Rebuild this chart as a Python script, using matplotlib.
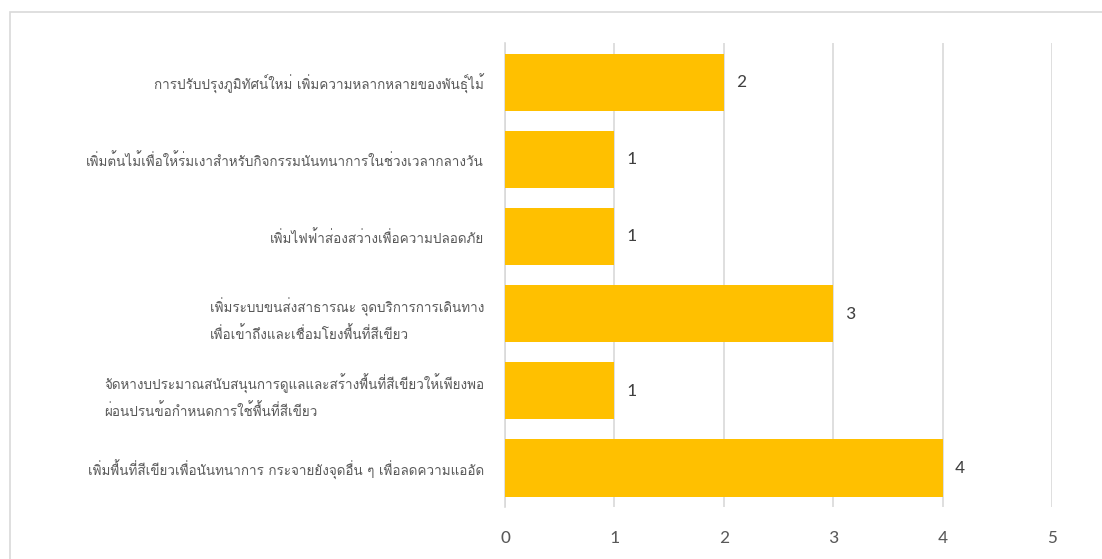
import matplotlib
matplotlib.use("Agg")
import matplotlib.pyplot as plt
from matplotlib.patches import Rectangle

categories = [
    "การปรับปรุงภูมิทัศน์ใหม่ เพิ่มความหลากหลายของพันธุ์ไม้",
    "เพิ่มต้นไม้เพื่อให้ร่มเงาสำหรับกิจกรรมนันทนาการในช่วงเวลากลางวัน",
    "เพิ่มไฟฟ้าส่องสว่างเพื่อความปลอดภัย",
    "เพิ่มระบบขนส่งสาธารณะ จุดบริการการเดินทาง\nเพื่อเข้าถึงและเชื่อมโยงพื้นที่สีเขียว",
    "จัดหางบประมาณสนับสนุนการดูแลและสร้างพื้นที่สีเขียวให้เพียงพอ\nผ่อนปรนข้อกำหนดการใช้พื้นที่สีเขียว",
    "เพิ่มพื้นที่สีเขียวเพื่อนันทนาการ กระจายยังจุดอื่น ๆ เพื่อลดความแออัด",
]
counts = [2, 1, 1, 3, 1, 4]
xticks = [0, 1, 2, 3, 4, 5]

thai_font = ["Loma", "DejaVu Sans"]
num_font = ["Carlito", "Open Sans", "DejaVu Sans"]
grid_col = "#d9d9d9"

fig = plt.figure(figsize=(11.02, 5.59), dpi=100)
ax = fig.add_axes([0.4583, 0.0937, 0.4963, 0.8285])

# chart frame
fig.patches.append(Rectangle((10 / 1102, -0.1), 1.2, 1 - 12 / 559 + 0.1,
                             transform=fig.transFigure, fill=False,
                             edgecolor=grid_col, linewidth=1.2))

y = list(range(len(categories)))
ax.barh(y, counts, height=0.74, color="#FFC000", zorder=3)
ax.set_ylim(len(categories) - 0.5, -0.5)
ax.set_xlim(0, 5)

for yi, c in zip(y, counts):
    ax.text(c + 0.11, yi, str(c), va="center", ha="left", fontsize=14,
            color="#404040", family=num_font)

ax.set_xticks(xticks)
ax.set_xticklabels([str(t) for t in xticks], family=num_font, fontsize=14,
                   color="#595959")
ax.set_yticks(y)
ax.set_yticklabels(categories, family=thai_font, fontsize=9.7, color="#595959",
                   multialignment="left", linespacing=1.7)
ax.tick_params(axis="x", length=0, pad=17)
ax.tick_params(axis="y", length=0, pad=15)
ax.grid(axis="x", color=grid_col, linewidth=1.2, zorder=0)
for s in ["top", "right", "bottom"]:
    ax.spines[s].set_visible(False)
ax.spines["left"].set_color(grid_col)
ax.spines["left"].set_linewidth(1.2)

fig.savefig("out.png")
